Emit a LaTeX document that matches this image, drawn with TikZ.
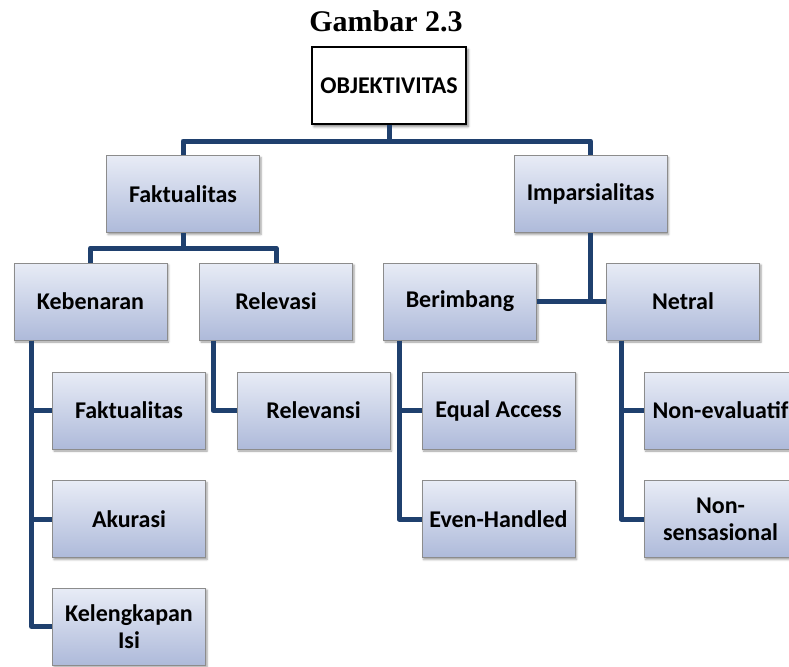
\documentclass[tikz,border=0pt]{standalone}
\usepackage{fontspec}
\setmainfont{Carlito}
\newfontfamily\titlefont{Liberation Serif}
\usetikzlibrary{shadows.blur,calc}
\definecolor{conn}{HTML}{1F406E}
\definecolor{boxtop}{HTML}{E8ECF6}
\definecolor{boxbot}{HTML}{AEBADA}
\definecolor{boxedge}{HTML}{8C8C8C}
\tikzset{
  px/.style={x=1pt,y=-1pt},
  catbox/.style={draw=boxedge, line width=1pt, top color=boxtop, bottom color=boxbot,
    minimum width=153pt, minimum height=77pt, inner sep=2pt, align=center,
    font=\fontsize{24}{27}\selectfont\bfseries,
    blur shadow={shadow xshift=1.5pt, shadow yshift=-2pt, shadow blur radius=2pt, shadow opacity=40}},
  rootbox/.style={draw=black, line width=2pt, fill=white,
    minimum width=154pt, minimum height=77pt, inner sep=2pt, align=center,
    font=\fontsize{24}{27}\selectfont\bfseries,
    blur shadow={shadow xshift=2pt, shadow yshift=-2.5pt, shadow blur radius=2.5pt, shadow opacity=50}},
  link/.style={draw=conn, line width=5pt, line join=round}
}
\begin{document}
\begin{tikzpicture}[px]
\useasboundingbox (0,0) rectangle (789,666);
\node[anchor=base, font=\titlefont\fontsize{30}{34}\selectfont\bfseries] (title) at (386,32) {Gambar 2.3};
\node[rootbox] (obj) at (389,85.5) {OBJEKTIVITAS};
\node[catbox] (fak) at (183,194) {Faktualitas};
\node[catbox] (imp) at (590.5,194) {Imparsialitas};
\node[catbox] (keb) at (90.5,301.5) {Kebenaran};
\node[catbox] (rel) at (276,301.5) {Relevasi};
\node[catbox] (ber) at (460,301.5) {Berimbang};
\node[catbox] (net) at (683,301.5) {Netral};
\node[catbox] (fak2) at (129,410.5) {Faktualitas};
\node[catbox] (aku) at (129,519) {Akurasi};
\node[catbox] (kel) at (129,626.5) {Kelengkapan\\Isi};
\node[catbox] (relv) at (313.5,410.5) {Relevansi};
\node[catbox] (eq) at (498.5,410.5) {Equal Access};
\node[catbox] (even) at (498.5,519) {Even-Handled};
\node[catbox] (neval) at (720.5,410.5) {Non-evaluatif};
\node[catbox] (nsens) at (720.5,519) {Non-\\sensasional};

\coordinate (j1) at ($(obj.south)+(0,16)$);
\draw[link] (obj.south) -- (j1) -| (fak.north);
\draw[link] (j1) -| (imp.north);
\coordinate (j2) at ($(fak.south)+(0,15)$);
\draw[link] (fak.south) -- (j2) -| (keb.north);
\draw[link] (j2) -| (rel.north);
\draw[link] (imp.south) -- (imp.south |- ber.east);
\draw[link] (ber.east) -- (net.west);

\coordinate (kb) at ($(keb.south west)+(18,0)$);
\draw[link] (kb) |- (fak2.west);
\draw[link] (kb) |- (aku.west);
\draw[link] (kb) |- (kel.west);
\coordinate (rb) at ($(rel.south west)+(14,0)$);
\draw[link] (rb) |- (relv.west);
\coordinate (bb) at ($(ber.south west)+(16,0)$);
\draw[link] (bb) |- (eq.west);
\draw[link] (bb) |- (even.west);
\coordinate (nb) at ($(net.south west)+(15,0)$);
\draw[link] (nb) |- (neval.west);
\draw[link] (nb) |- (nsens.west);
\end{tikzpicture}
\end{document}
